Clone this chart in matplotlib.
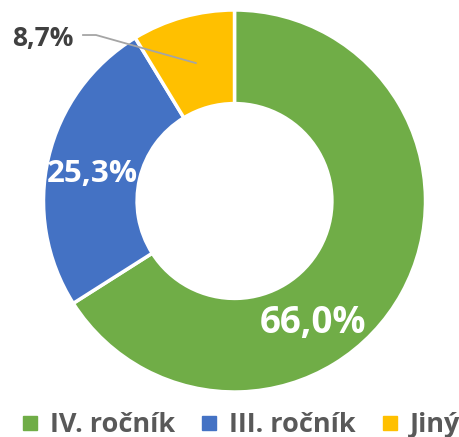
import numpy as np
import matplotlib.pyplot as plt
from matplotlib.lines import Line2D

labels = ["IV. ročník", "III. ročník", "Jiný"]
values = [66.0, 25.3, 8.7]
value_text = ["66,0%", "25,3%", "8,7%"]
colors = ["#70AD47", "#4472C4", "#FFC000"]

plt.rcParams["font.family"] = ["Open Sans", "DejaVu Sans"]

W, H = 459, 437
fig = plt.figure(figsize=(W / 100, H / 100), dpi=100)
cx, cy, r = 234.5, 201, 191
ax = fig.add_axes([(cx - r) / W, (H - cy - r) / H, 2 * r / W, 2 * r / H])

wedges, _ = ax.pie(values, colors=colors, startangle=90, counterclock=False,
                   radius=1.0, wedgeprops=dict(width=0.49, edgecolor="white", linewidth=2.5))
ax.set_xlim(-1, 1)
ax.set_ylim(-1, 1)
ax.set_aspect("equal")
ax.axis("off")

# inside labels
ax.text(0.41, -0.64, value_text[0], ha="center", va="center", color="white",
        fontsize=26.5, fontweight="bold")
ax.text(-0.746, 0.14, value_text[1], ha="center", va="center", color="white",
        fontsize=22.5, fontweight="bold")

# outside label with leader for small slice
w = wedges[2]
mid = np.deg2rad((w.theta1 + w.theta2) / 2)
end = (0.75 * np.cos(mid), 0.75 * np.sin(mid))
ax.plot([-0.793, -0.725, end[0]], [0.869, 0.869, end[1]], color="#A5A5A5",
        lw=1.3, clip_on=False, zorder=5)
ax.text(-1.005, 0.85, value_text[2], ha="center", va="center", color="#404040",
        fontsize=19, fontweight="bold")

handles = [Line2D([], [], marker="s", ls="none", markersize=10.5, color=c) for c in colors]
fig.legend(handles, labels, loc="lower center", bbox_to_anchor=(0.522, -0.059), ncol=3,
           frameon=False, handletextpad=0.35, columnspacing=0.85, handlelength=0.8,
           prop=dict(size=19.5, weight="bold"), labelcolor="#595959")

fig.savefig("out.png", dpi=100)
